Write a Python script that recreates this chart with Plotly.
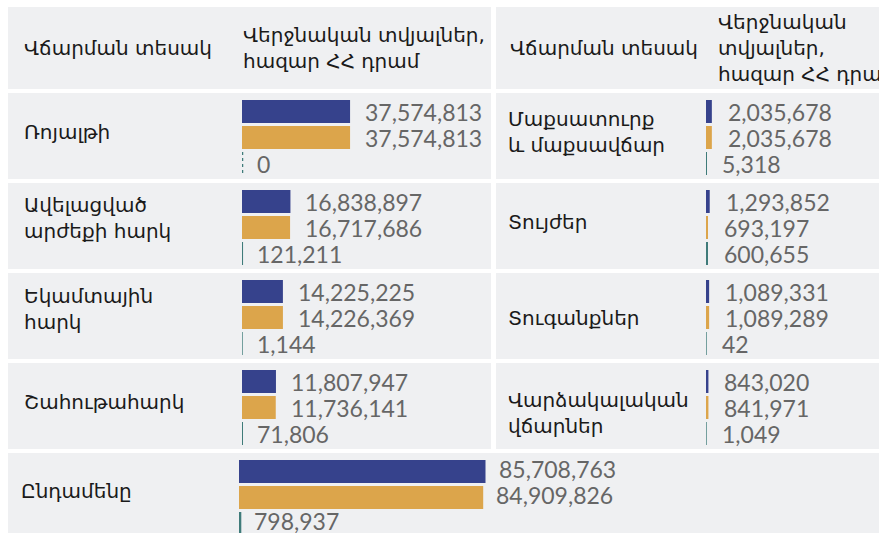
import plotly.graph_objects as go

# Tax revenue by payment type, final data, thousand AMD
LEFT_TYPES = ["Ռոյալթի", "Ավելացված<br>արժեքի հարկ", "Եկամտային<br>հարկ", "Շահութահարկ"]
LEFT_PLAN = [37574813, 16838897, 14225225, 11807947]
LEFT_ACTUAL = [37574813, 16717686, 14226369, 11736141]
LEFT_DIFF = [0, 121211, 1144, 71806]

RIGHT_TYPES = ["Մաքսատուրք<br>և մաքսավճար", "Տույժեր", "Տուգանքներ", "Վարձակալական<br>վճարներ"]
RIGHT_PLAN = [2035678, 1293852, 1089331, 843020]
RIGHT_ACTUAL = [2035678, 693197, 1089289, 841971]
RIGHT_DIFF = [5318, 600655, 42, 1049]

TOTAL_TYPE = "Ընդամենը"
TOTAL_PLAN = [85708763]
TOTAL_ACTUAL = [84909826]
TOTAL_DIFF = [798937]

HEAD_TYPE = "Վճարման տեսակ"
HEAD_VALUE = "Վերջնական տվյալներ,<br>հազար ՀՀ դրամ"
HEAD_VALUE_NARROW = "Վերջնական<br>տվյալներ,<br>հազար ՀՀ դրամ"

COLORS = ["#36428c", "#dca54b", "#3f7b7a"]
CELL = "#eff0f2"
LABEL_GREY = "#666666"
TITLE_INK = "#1a1a1a"
ARM_FONT = "DejaVu Sans"
NUM_FONT = "Lato"

W, H = 879, 533
PX_PER_UNIT = 2.876e-6          # bar length in pixels per thousand AMD
ROW_PITCH = 90                  # pixels between row centres
FIRST_ROW = 137.5               # pixel centre of first row
BARGAP, GROUPGAP = 0.1333, 0.115


def px(x):
    return x / W


def py(y):
    return 1 - y / H


fig = go.Figure()

panels = [
    ("x", "y", LEFT_TYPES, [LEFT_PLAN, LEFT_ACTUAL, LEFT_DIFF]),
    ("x2", "y2", RIGHT_TYPES, [RIGHT_PLAN, RIGHT_ACTUAL, RIGHT_DIFF]),
    ("x3", "y", [TOTAL_TYPE], [TOTAL_PLAN, TOTAL_ACTUAL, TOTAL_DIFF]),
]

for xa, ya, cats, series in panels:
    for vals, color in zip(series, COLORS):
        fig.add_trace(go.Bar(
            x=vals, y=cats, orientation="h", xaxis=xa, yaxis=ya,
            marker=dict(color=color, line=dict(width=0)),
            hoverinfo="skip", showlegend=False,
        ))

# value labels beside each bar
label_shift = {"x": 13, "x2": 14, "x3": 11}
label_lift = {"x": 0, "x2": 0, "x3": 3}
yshifts = [26, 0, -26]
for xa, ya, cats, series in panels:
    for vals, dy in zip(series, yshifts):
        for cat, v in zip(cats, vals):
            fig.add_annotation(
                x=v, y=cat, xref=xa, yref=ya, text=f"{v:,}",
                xanchor="left", yanchor="middle", showarrow=False,
                xshift=label_shift[xa], yshift=dy + label_lift[xa],
                font=dict(family=NUM_FONT, size=23, color=LABEL_GREY),
            )

# hairline ticks keep sub-pixel differences visible; zero gets a dotted tick
slot = (1 - BARGAP) / 3
half = slot * (1 - GROUPGAP) / 2
for xa, ya, cats, series in panels:
    for i, v in enumerate(series[2]):
        if v * PX_PER_UNIT < 1:
            fig.add_shape(
                type="line", xref=xa, yref=ya, x0=v, x1=v,
                y0=i + slot - half, y1=i + slot + half,
                line=dict(color=COLORS[2], width=2.5 if v == 0 else 1.4,
                          dash="dot" if v == 0 else "solid"),
            )

# table cells
cells = [(8, 7, 491, 89), (496, 7, W, 89)]
for k in range(4):
    top = 93 + ROW_PITCH * k
    cells.append((8, top, 491, top + 86))
    cells.append((496, top, W, top + 86))
cells.append((8, 453, W, H))
for x0, y0, x1, y1 in cells:
    fig.add_shape(type="rect", xref="paper", yref="paper",
                  x0=px(x0), x1=px(x1), y0=py(y0), y1=py(y1),
                  fillcolor=CELL, line=dict(width=0), layer="below")

# header texts
arm = dict(family=ARM_FONT, size=20, color=TITLE_INK)
for text, x in [(HEAD_TYPE, 22), (HEAD_VALUE, 241), (HEAD_TYPE, 508), (HEAD_VALUE_NARROW, 716)]:
    fig.add_annotation(x=px(x), y=py(48), xref="paper", yref="paper", text=text,
                       xanchor="left", yanchor="middle", align="left",
                       showarrow=False, font=arm)

# row titles, nudged to sit within their cells
title_lift = {"y": [6, 10, 9, 6, 7], "y2": [6, 6, 0, -5]}
for cats, ya, x, offs in [(LEFT_TYPES, "y", 22, title_lift["y"][:4]),
                          (RIGHT_TYPES, "y2", 506, title_lift["y2"]),
                          ([TOTAL_TYPE], "y", 19, title_lift["y"][4:])]:
    for c, lift in zip(cats, offs):
        fig.add_annotation(x=px(x), y=c, xref="paper", yref=ya, text=c,
                           xanchor="left", yanchor="middle", align="left",
                           showarrow=False, yshift=lift, font=arm)

top_val = -FIRST_ROW / ROW_PITCH
bot_val = top_val + H / ROW_PITCH
yax = dict(type="category", range=[bot_val, top_val], visible=False,
           showgrid=False, zeroline=False, fixedrange=True)
fig.update_layout(
    width=W, height=H, margin=dict(l=0, r=0, t=0, b=0),
    paper_bgcolor="white", plot_bgcolor="rgba(0,0,0,0)",
    barmode="group", bargap=BARGAP, bargroupgap=GROUPGAP,
    xaxis=dict(domain=[px(242), px(491)], range=[0, (491 - 242) / PX_PER_UNIT], anchor="y", visible=False),
    xaxis2=dict(domain=[px(706), 1], range=[0, (W - 706) / PX_PER_UNIT], anchor="y2", visible=False),
    xaxis3=dict(domain=[px(239), 1], range=[0, (W - 239) / PX_PER_UNIT], anchor="y", visible=False),
    yaxis=dict(yax, anchor="x", categoryarray=LEFT_TYPES + [TOTAL_TYPE], categoryorder="array"),
    yaxis2=dict(yax, anchor="x2", categoryarray=RIGHT_TYPES, categoryorder="array"),
)

fig.write_html("out.html")
